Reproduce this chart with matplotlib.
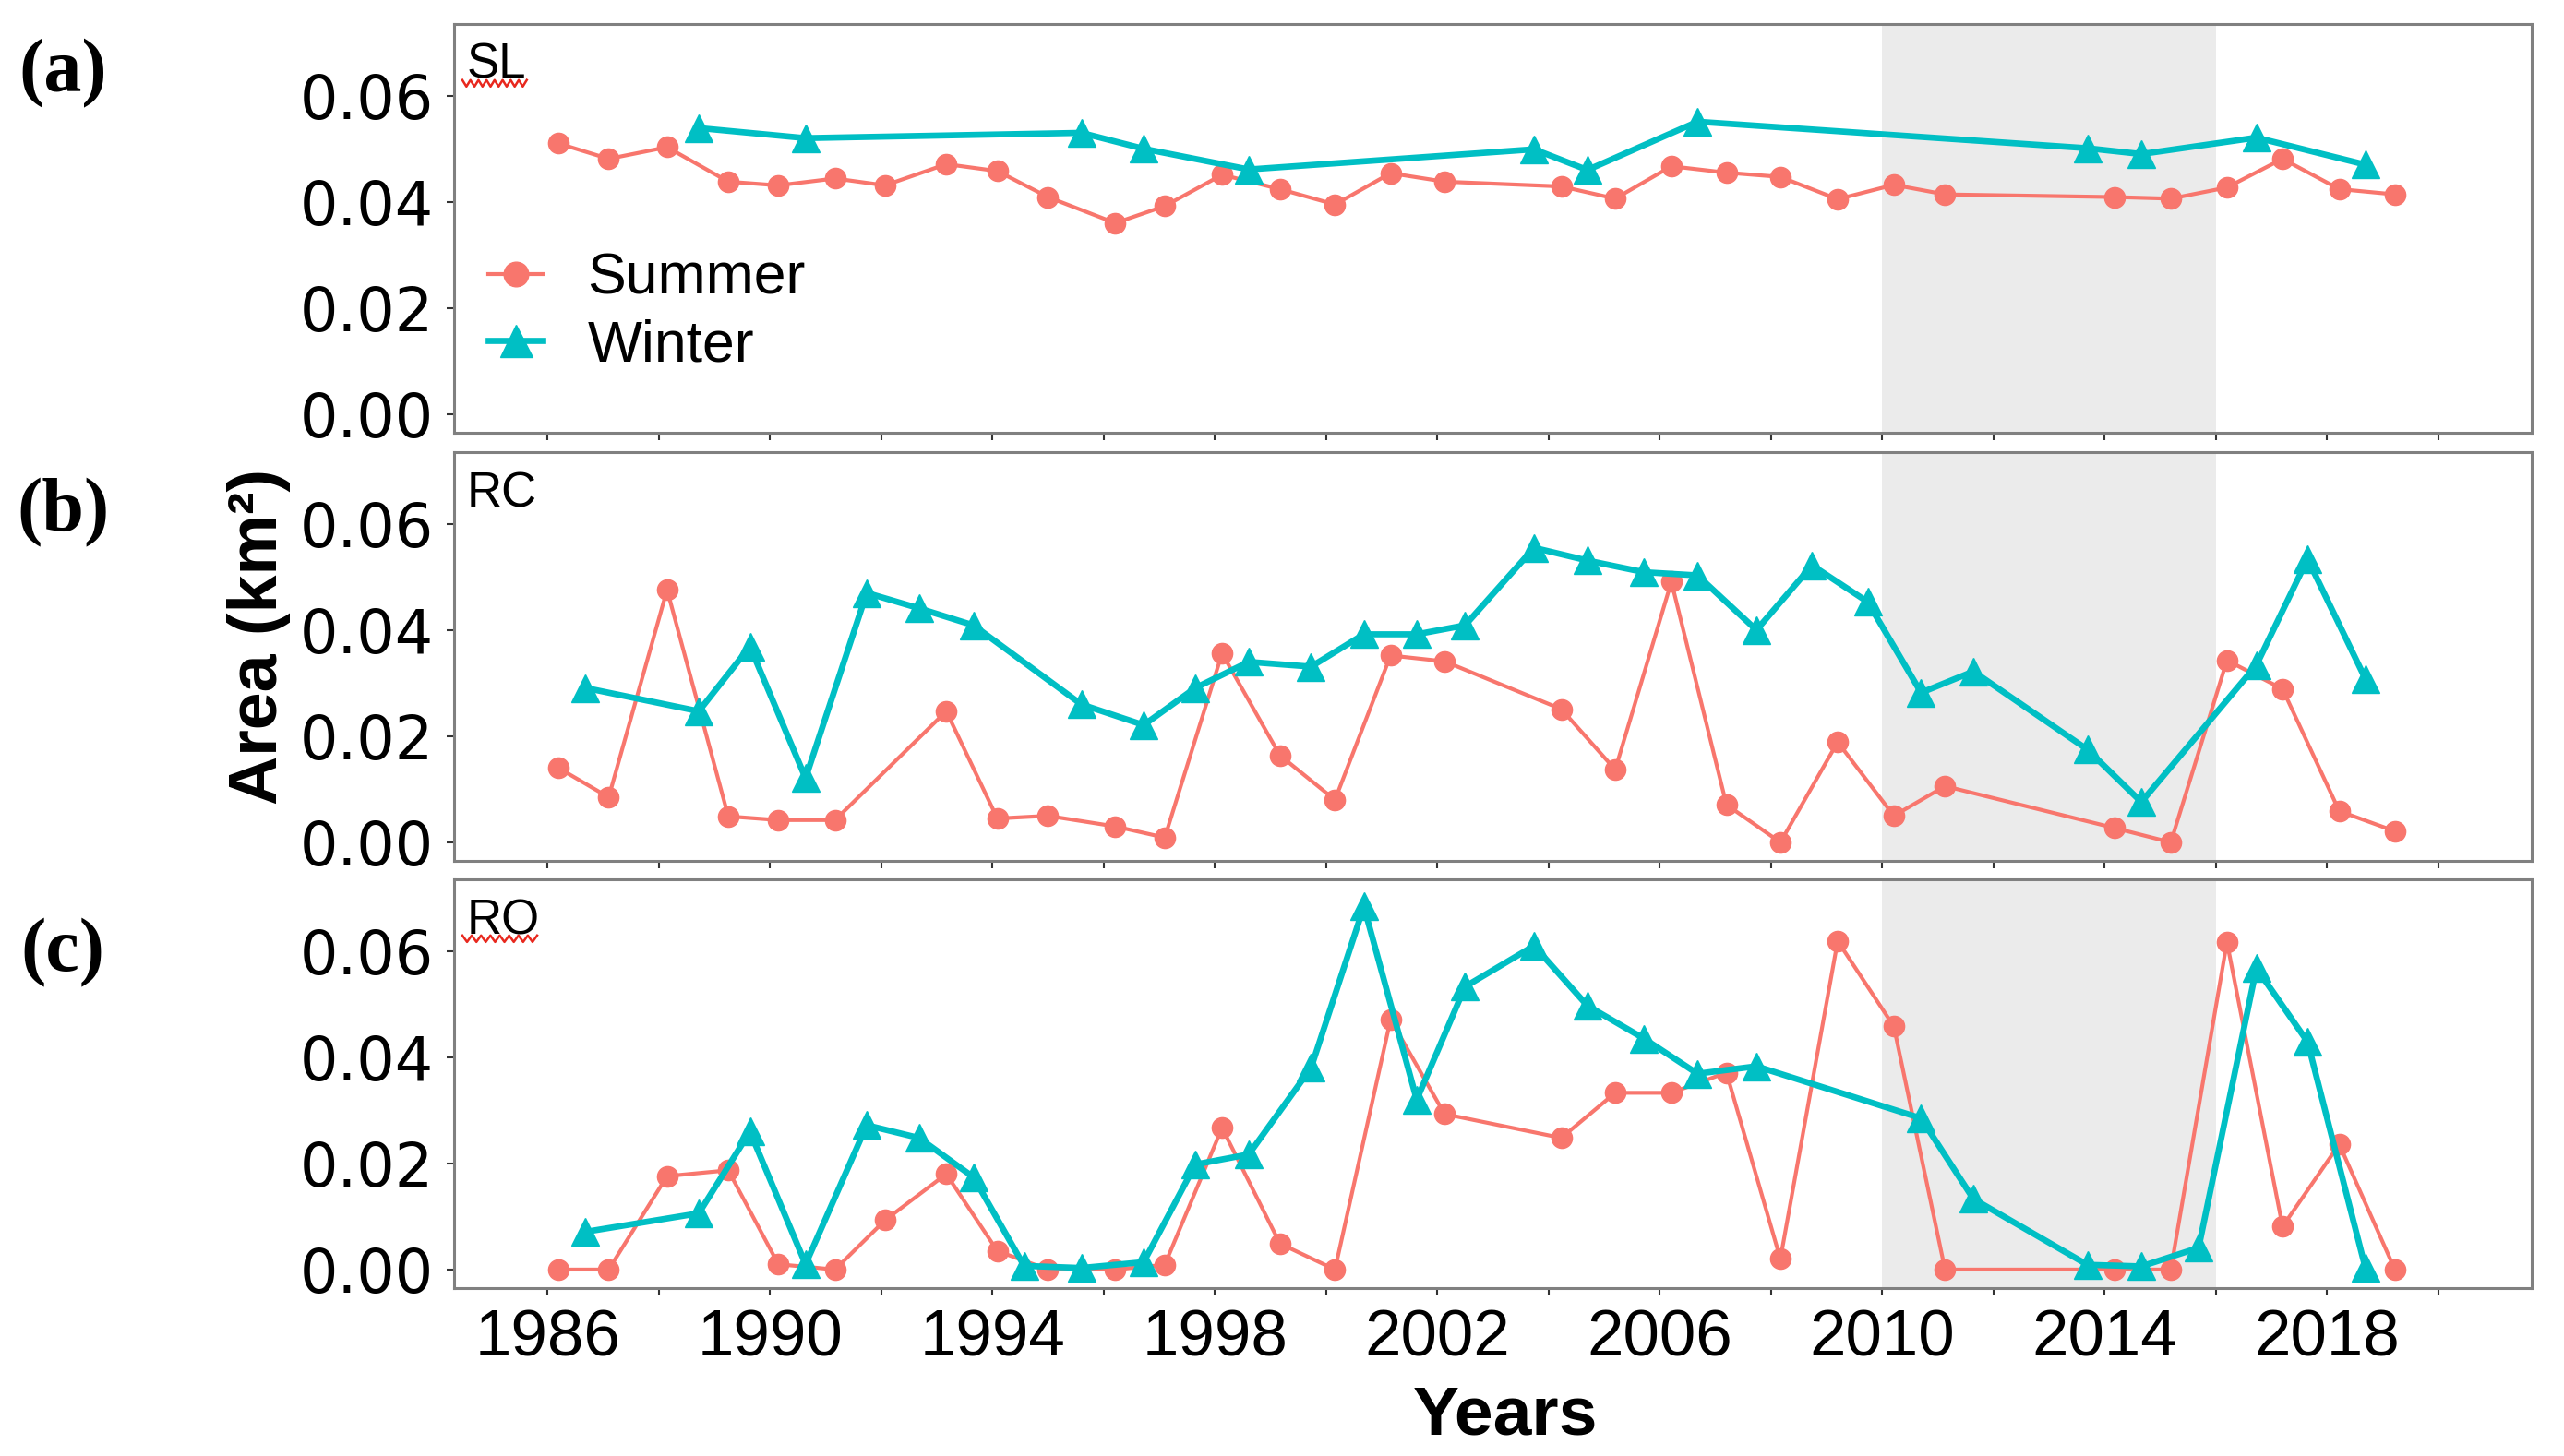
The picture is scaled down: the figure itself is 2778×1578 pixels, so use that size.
import matplotlib.pyplot as plt
import numpy as np

SUMMER_COLOR = "#F8766D"
WINTER_COLOR = "#00BFC4"
SHADE_COLOR = "#EBEBEB"

# acquisition dates (decimal years) for each season
summer_years = [1986.2, 1987.1, 1988.15, 1989.25, 1990.15, 1991.17, 1992.07, 1993.17,
                1994.09, 1995.0, 1996.21, 1997.1, 1998.13, 1999.17, 2000.16, 2001.16,
                2002.13, 2004.23, 2005.2, 2006.21, 2007.2, 2008.17, 2009.2, 2010.21,
                2011.13, 2014.18, 2015.19, 2016.2, 2017.2, 2018.22, 2019.22]
winter_years = [1986.68, 1988.72, 1989.64, 1990.64, 1991.74, 1992.68, 1993.66, 1994.57,
                1995.6, 1996.72, 1997.65, 1998.61, 1999.73, 2000.68, 2001.63, 2002.5,
                2003.74, 2004.7, 2005.72, 2006.68, 2007.74, 2008.74, 2009.74, 2010.7,
                2011.64, 2013.69, 2014.66, 2015.69, 2016.73, 2017.65, 2018.69]

# area (km2), None = no observation
sl_summer = [0.0510, 0.0481, 0.0503, 0.0438, 0.0431, 0.0444, 0.0431, 0.0471,
             0.0458, 0.0409, 0.0360, 0.0392, 0.0451, 0.0424, 0.0395, 0.0454,
             0.0438, 0.0429, 0.0406, 0.0467, 0.0455, 0.0447, 0.0405, 0.0432,
             0.0414, 0.0409, 0.0406, 0.0427, 0.0481, 0.0424, 0.0414]
rc_summer = [0.0140, 0.0085, 0.0476, 0.0049, 0.0042, 0.0042, None, 0.0247,
             0.0045, 0.0050, 0.0030, 0.0009, 0.0356, 0.0164, 0.0080, 0.0352,
             0.0341, 0.0251, 0.0137, 0.0491, 0.0071, 0.0000, 0.0189, 0.0050,
             0.0106, 0.0027, 0.0000, 0.0343, 0.0289, 0.0059, 0.0021]
ro_summer = [0.0, 0.0, 0.0176, 0.0187, 0.0010, 0.0, 0.0093, 0.0180,
             0.0035, 0.0, 0.0, 0.0009, 0.0267, 0.0049, 0.0, 0.0471,
             0.0293, 0.0248, 0.0333, 0.0333, 0.0371, 0.0020, 0.0619, 0.0458,
             0.0, 0.0, 0.0, 0.0617, 0.0081, 0.0236, 0.0]

sl_winter = [None, 0.0539, None, 0.0520, None, None, None, None,
             0.0530, 0.0500, None, 0.0461, None, None, None, None,
             0.0499, 0.0460, None, 0.0551, None, None, None, None,
             None, 0.0501, 0.0490, None, 0.0521, None, 0.0470]
rc_winter = [0.0291, 0.0247, 0.0369, 0.0121, 0.0470, 0.0441, 0.0409, None,
             0.0260, 0.0221, 0.0291, 0.0340, 0.0331, 0.0392, 0.0392, 0.0409,
             0.0555, 0.0531, 0.0509, 0.0503, 0.0400, 0.0522, 0.0453, 0.0282,
             0.0322, 0.0175, 0.0076, None, 0.0334, 0.0534, 0.0308]
ro_winter = [0.0071, 0.0106, 0.0260, 0.0010, 0.0272, 0.0248, 0.0174, 0.0007,
             0.0003, 0.0014, 0.0198, 0.0217, 0.0380, 0.0684, 0.0320, 0.0533,
             0.0610, 0.0497, 0.0435, 0.0369, 0.0383, None, None, 0.0285,
             0.0133, 0.0009, 0.0006, 0.0041, 0.0568, 0.0429, 0.0003]

sites = ["SL", "RC", "RO"]
panel_tags = ["(a)", "(b)", "(c)"]
summer_series = [sl_summer, rc_summer, ro_summer]
winter_series = [sl_winter, rc_winter, ro_winter]

shade_span = (2010, 2016)
y_ticks = [0.00, 0.02, 0.04, 0.06]
x_ticks = list(range(1986, 2021, 2))
x_labels = [str(y) if (y - 1986) % 4 == 0 else "" for y in x_ticks]


def clean(years, values):
    pairs = [(x, v) for x, v in zip(years, values) if v is not None]
    return [p[0] for p in pairs], [p[1] for p in pairs]


def squiggle(ax, x0, x1, y):
    # red spell-check underline seen in the source picture
    xs = np.linspace(x0, x1, 17)
    ys = y + np.where(np.arange(17) % 2 == 0, 0.008, -0.008)
    ax.plot(xs, ys, color="#E8281E", lw=1.8, transform=ax.transAxes, clip_on=False)


fig = plt.figure(figsize=(27.78, 15.78), dpi=100)

left, width, height = 0.1771, 0.8103, 0.2807
bottoms = [0.7028, 0.4087, 0.1153]
tag_y = [0.9493, 0.6477, 0.3454]

for k, site in enumerate(sites):
    ax = fig.add_axes([left, bottoms[k], width, height])
    ax.axvspan(*shade_span, color=SHADE_COLOR, lw=0, zorder=0)

    sx, sy = clean(summer_years, summer_series[k])
    wx, wy = clean(winter_years, winter_series[k])
    ax.plot(sx, sy, color=SUMMER_COLOR, lw=3.0, marker="o", ms=16,
            label="Summer", zorder=3)
    ax.plot(wx, wy, color=WINTER_COLOR, lw=4.8, marker="^", ms=21,
            label="Winter", zorder=4)

    ax.set_xlim(1984.32, 2021.68)
    ax.set_ylim(-0.0035, 0.0735)
    ax.set_yticks(y_ticks)
    ax.set_yticklabels([f"{v:.2f}" for v in y_ticks], family="DejaVu Sans", fontsize=47)
    ax.set_xticks(x_ticks)
    if k == 2:
        ax.set_xticklabels(x_labels, family="Liberation Sans", fontsize=51)
    else:
        ax.set_xticklabels([])
    ax.tick_params(axis="both", length=6, width=1.5, color="#333333", pad=10)
    for sp in ax.spines.values():
        sp.set_color("#808080")
        sp.set_linewidth(2.2)

    ax.text(0.006, 0.955, site, transform=ax.transAxes, ha="left", va="top",
            family="Liberation Sans", fontsize=38)
    if site in ("SL", "RO"):
        squiggle(ax, 0.004, 0.004 + (0.031 if site == "SL" else 0.036), 0.855)

    fig.text(0.0245, tag_y[k], panel_tags[k], ha="center", va="center",
             family="Liberation Serif", fontweight="bold", fontsize=59)

    if k == 0:
        ax.legend(loc="center left", bbox_to_anchor=(0.0164, 0.295), frameon=False,
                  prop={"family": "Liberation Sans", "size": 45}, borderaxespad=0,
                  borderpad=0, handlelength=0.95, handletextpad=0.77,
                  labelspacing=0.22, numpoints=1, markerscale=1.2)

fig.text(0.1008, 0.5627, "Area (km²)", rotation=90, ha="center", va="center",
         family="Liberation Sans", fontweight="bold", fontsize=53)
fig.text(0.587, 0.0272, "Years", ha="center", va="center",
         family="Liberation Sans", fontweight="bold", fontsize=54)

fig.savefig("out.png", dpi=100, facecolor="white")
